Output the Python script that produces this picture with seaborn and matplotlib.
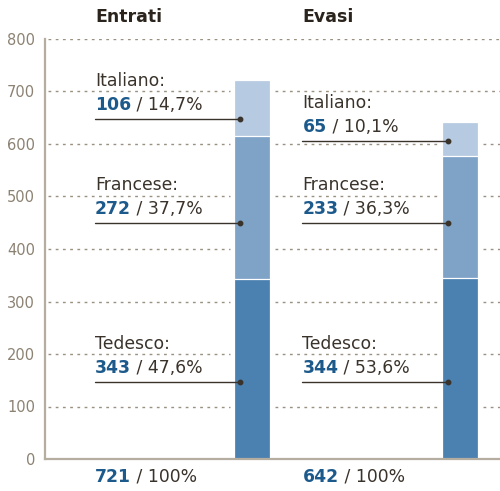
import matplotlib
matplotlib.use("Agg")
import matplotlib.pyplot as plt
import seaborn as sns
import pandas as pd

# ---- data ----
categories = ["Entrati", "Evasi"]
tedesco = [343, 344]
francese = [272, 233]
italiano = [106, 65]
pct_tedesco = ["47,6%", "53,6%"]
pct_francese = ["37,7%", "36,3%"]
pct_italiano = ["14,7%", "10,1%"]
totals = [721, 642]
lang_labels = ["Italiano:", "Francese:", "Tedesco:"]
yticks = [0, 100, 200, 300, 400, 500, 600, 700, 800]

# leader-line heights (layout)
leader_y = {"Italiano:": [648, 606], "Francese:": [450, 450], "Tedesco:": [147, 147]}

sns.set_theme(style="white")
plt.rcParams["font.family"] = ["DejaVu Sans"]

C_TED = "#4b81b1"
C_FRA = "#7fa2c7"
C_ITA = "#b6cae1"
C_TXT = "#3a332b"
C_NUM = "#1d5a8c"
C_TICK = "#8c8273"
C_SPINE = "#b5ad9f"
C_GRID = "#9a9182"

W, H = 500, 491
fig = plt.figure(figsize=(W / 100, H / 100), dpi=100)
ax_l, ax_b, ax_r, ax_t = 45, 459, 500, 39
ax = fig.add_axes([ax_l / W, (H - ax_b) / H, (ax_r - ax_l) / W, (ax_b - ax_t) / H])

df = pd.DataFrame({
    "cat": categories,
    "top": [t + f + i for t, f, i in zip(tedesco, francese, italiano)],
    "mid": [t + f for t, f in zip(tedesco, francese)],
    "low": tedesco,
})

bw = 0.1735
for col, c in [("top", C_ITA), ("mid", C_FRA), ("low", C_TED)]:
    sns.barplot(data=df, x="cat", y=col, order=categories, color=c, saturation=1,
                width=bw, edgecolor="white", linewidth=0.9, ax=ax, zorder=3)

ax.set_xlim(-0.998, 1.195)
ax.set_ylim(0, 800)
ax.set_xlabel("")
ax.set_ylabel("")
ax.set_xticks([])
ax.set_yticks(yticks)
ax.set_yticklabels([str(v) for v in yticks])
ax.tick_params(axis="y", length=0, pad=7, labelsize=10.5, labelcolor=C_TICK)
for s in ["top", "right"]:
    ax.spines[s].set_visible(False)
for s in ["left", "bottom"]:
    ax.spines[s].set_color(C_SPINE)
    ax.spines[s].set_linewidth(1.6)
ax.spines["bottom"].set_zorder(5)

# broken dotted gridlines
px = 1 / 207.5
half = bw / 2
xmin, xmax = -0.998 + 3 * px, 1.195
for yv in yticks[1:]:
    segs = []
    start = xmin
    for i, tot in enumerate(totals):
        if tot >= yv:
            segs.append((start, i - half - 4 * px))
            start = i + half + 5 * px
    segs.append((start, xmax))
    for a, b in segs:
        ax.plot([a, b], [yv, yv], color=C_GRID, lw=1.0, ls=(0, (2.0, 3.2)),
                zorder=1, solid_capstyle="butt", dash_capstyle="butt")

# labels
text_off = -0.757
dot_off = -0.057
fs = 12.4

def two_part(x, y, num, rest, dy_pt):
    t1 = ax.annotate(num, xy=(x, y), xytext=(0, dy_pt), textcoords="offset points",
                     ha="left", va="baseline", fontsize=fs, fontweight="bold", color=C_NUM,
                     annotation_clip=False)
    ax.annotate(" / " + rest, xy=(1, 0), xycoords=t1, ha="left", va="bottom",
                fontsize=fs, color=C_TXT, annotation_clip=False)

for i in range(len(categories)):
    xt = i + text_off
    for lab, val, pct in [("Italiano:", italiano[i], pct_italiano[i]),
                          ("Francese:", francese[i], pct_francese[i]),
                          ("Tedesco:", tedesco[i], pct_tedesco[i])]:
        ly = leader_y[lab][i]
        ax.plot([xt, i + dot_off], [ly, ly], color=C_TXT, lw=1.0, zorder=4)
        ax.plot([i + dot_off], [ly], marker="o", ms=3.2, color=C_TXT, zorder=4)
        ax.annotate(lab, xy=(xt, ly), xytext=(0, 23.5), textcoords="offset points",
                    ha="left", va="baseline", fontsize=fs, color=C_TXT)
        two_part(xt, ly, str(val), pct, 6.5)
    # title
    ax.annotate(categories[i], xy=(xt, 800), xytext=(0, 12.5), textcoords="offset points",
                ha="left", va="baseline", fontsize=12.5, fontweight="bold", color="#2a241d",
                annotation_clip=False)
    # totals
    two_part(xt, 0, str(totals[i]), "100%", -16.5)

fig.savefig("out.png", dpi=100)
